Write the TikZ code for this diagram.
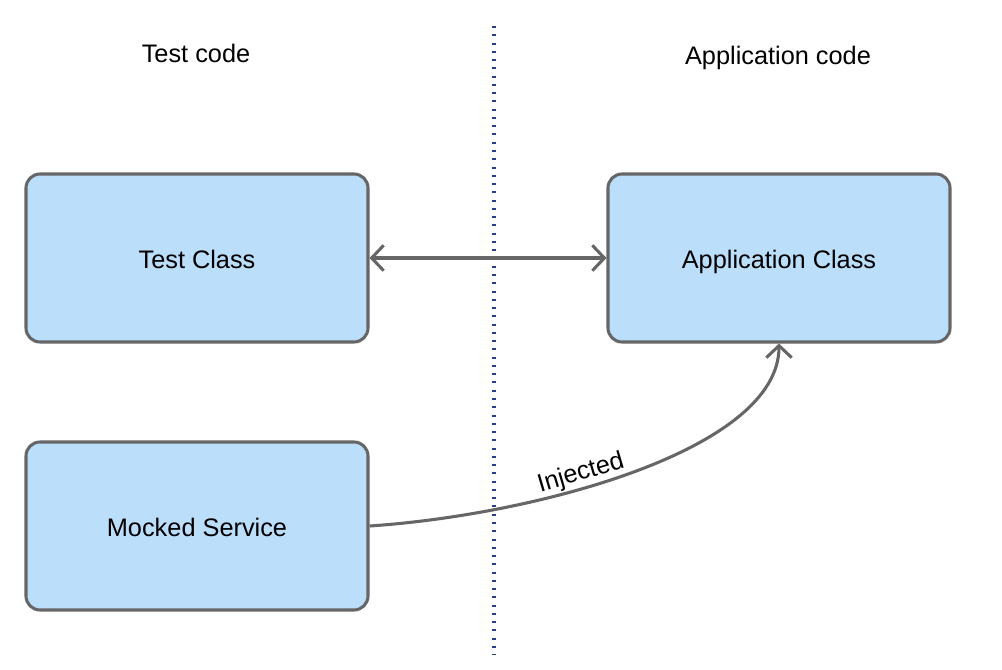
\documentclass[tikz,border=0pt]{standalone}
\usepackage{fontspec}
\setmainfont{Liberation Sans}
\usetikzlibrary{arrows.meta}
\definecolor{boxfill}{HTML}{BBDEFB}
\definecolor{boxline}{HTML}{666666}
\definecolor{divider}{HTML}{2A3C8C}
\begin{document}
\begin{tikzpicture}[x=0.75pt,y=-0.75pt,
  cls/.style={draw=boxline, fill=boxfill, line width=2.3pt, rounded corners=10.5pt,
    minimum width=342*0.75pt, minimum height=168*0.75pt, inner sep=0pt,
    text height=15pt, text depth=0pt,
    font=\fontsize{19}{22}\selectfont},
  ttl/.style={font=\fontsize{19}{22}\selectfont},
  conn/.style={draw=boxline, line width=2.3pt},
  barb/.tip={Straight Barb[length=9pt, width=19pt, line width=2.3pt]}
]
\useasboundingbox (0,0) rectangle (1002,670);
\coordinate (dtop) at (494,26);
\coordinate (dbot) at (494,655);
\draw[divider, line width=3pt, dash pattern=on 1.5pt off 4.7pt] (dtop) -- (dbot);
\node[ttl] (tcode) at (196,53) {Test code};
\node[ttl] (acode) at (778,58) {Application code};
\node[cls] (test) at (197,258) {Test Class};
\node[cls] (app) at (779,258) {Application Class};
\node[cls] (mock) at (197,526) {Mocked Service};
\draw[conn, barb-barb] (test.east) -- (app.west);
\draw[conn, -barb] (mock.east) .. controls (535,515) and (779,450) .. (app.south)
  node[pos=0.4, sloped, above, inner sep=1pt, font=\fontsize{19}{22}\selectfont, black] (inj) {Injected};
\end{tikzpicture}
\end{document}
